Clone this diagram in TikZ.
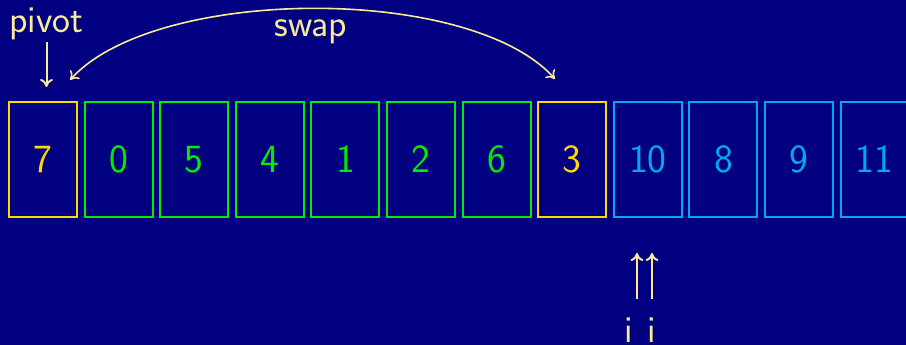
\documentclass[tikz,border=0pt]{standalone}
\usetikzlibrary{arrows.meta}
\definecolor{navy}{HTML}{000080}
\definecolor{pale}{HTML}{FAEB9A}
\definecolor{pivotc}{HTML}{FFD800}
\definecolor{lowc}{HTML}{00EC00}
\definecolor{highc}{HTML}{00A8F0}
\tikzset{
  cell/.style={draw, line width=2pt, minimum width=68pt, minimum height=114pt,
    inner sep=0pt, font=\sffamily\fontsize{40}{44}\selectfont},
  pivotcell/.style={cell, draw=pivotc, text=pivotc},
  lowcell/.style={cell, draw=lowc, text=lowc},
  highcell/.style={cell, draw=highc, text=highc},
  lbl/.style={text=pale, inner sep=0pt, font=\sffamily\fontsize{38}{42}\selectfont},
  ptr/.style={draw=pale, line width=2pt, -{To[length=8pt,width=13pt]}},
}
\begin{document}
\begin{tikzpicture}[x=1pt, y=-1pt]
  \fill[navy] (0,0) rectangle (906,345);
  \useasboundingbox (0,0) rectangle (906,345);
  \clip (0,0) rectangle (906,345);

  % the array
  \node[pivotcell] (c0) at (43,159.5) {7};
  \node[lowcell]   (c1) at (118.6,159.5) {0};
  \node[lowcell]   (c2) at (194.2,159.5) {5};
  \node[lowcell]   (c3) at (269.8,159.5) {4};
  \node[lowcell]   (c4) at (345.4,159.5) {1};
  \node[lowcell]   (c5) at (421,159.5) {2};
  \node[lowcell]   (c6) at (496.6,159.5) {6};
  \node[pivotcell] (c7) at (572.2,159.5) {3};
  \node[highcell]  (c8) at (647.8,159.5) {10};
  \node[highcell]  (c9) at (723.4,159.5) {8};
  \node[highcell]  (c10) at (799,159.5) {9};
  \node[highcell]  (c11) at (874.6,159.5) {11};

  % pivot label and pointer
  \node[lbl, anchor=base] (piv) at (46.5,33) {pivot};
  \coordinate (pivtip) at (46.5,87);
  \draw[ptr] (46.5,42) -- (pivtip);

  % swap arc between the two exchanged cells
  \coordinate (swl) at (70,80);
  \coordinate (swr) at (555,79);
  \draw[draw=pale, line width=1.6pt, {To[length=8pt,width=13pt]}-{To[length=8pt,width=13pt]}]
    (swl) .. controls (155,-14) and (470,-16) .. (swr);
  \node[lbl, anchor=base] (swap) at (311,37) {swap};

  % the two index pointers
  \node[lbl, anchor=base] (ia) at (629,342) {i};
  \node[lbl, anchor=base] (ib) at (652,342) {i};
  \coordinate (ta) at (637,253);
  \coordinate (tb) at (652,253);
  \draw[ptr] (637,299) -- (ta);
  \draw[ptr] (652,299) -- (tb);
\end{tikzpicture}
\end{document}
